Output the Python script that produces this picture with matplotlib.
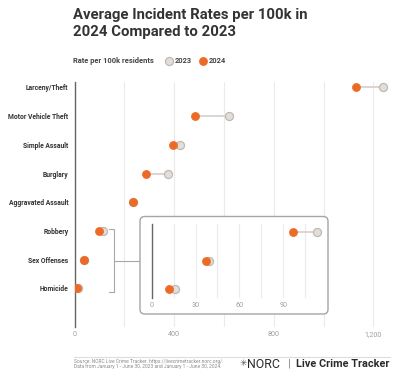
import matplotlib
matplotlib.use("Agg")
import matplotlib.pyplot as plt
from matplotlib.patches import FancyBboxPatch
from matplotlib.lines import Line2D

categories = ["Larceny/Theft", "Motor Vehicle Theft", "Simple Assault", "Burglary",
              "Aggravated Assault", "Robbery", "Sex Offenses", "Homicide"]
rate_2023 = [1240, 620, 424, 374, 236, 113, 39, 16]
rate_2024 = [1131, 484, 397, 287, 234, 97, 37, 12]
inset_categories = ["Robbery", "Sex Offenses", "Homicide"]
main_ticks = [0, 400, 800, 1200]
main_tick_labels = ["0", "400", "800", "1,200"]
inset_ticks = [0, 30, 60, 90]
inset_tick_labels = ["0", "30", "60", "90"]

W, H = 400, 385
plt.rcParams['font.family'] = ['Roboto', 'DejaVu Sans']
fig = plt.figure(figsize=(W / 100, H / 100), dpi=100)
fig.patch.set_facecolor("white")

def fx(x):
    return x / W

def fy(y):
    return 1 - y / H

def rect(x0, y0, x1, y1):
    return [fx(x0), fy(y1), fx(x1) - fx(x0), fy(y0) - fy(y1)]

ORANGE = "#EC6A26"
GRAY_FILL = "#E2DFDB"
GRAY_EDGE = "#BFB9B3"
LINE_C = "#D8D2CD"
DARK = "#333333"
TICK_C = "#A0A0A0"
GRID_C = "#EBEBEB"
MS = 5.8

def dumbbell(ax, cats, v23, v24):
    ys = list(range(len(cats)))
    for y, a, b in zip(ys, v23, v24):
        ax.plot([a, b], [y, y], color=LINE_C, lw=1.3, zorder=2, solid_capstyle="butt")
    ax.plot(v23, ys, "o", ms=MS, mfc=GRAY_FILL, mec=GRAY_EDGE, mew=0.9, zorder=3, ls="none")
    ax.plot(v24, ys, "o", ms=MS, mfc=ORANGE, mec=ORANGE, mew=0.5, zorder=4, ls="none")

# main axes
ax = fig.add_axes(rect(74.5, 82, 390, 327))
dumbbell(ax, categories, rate_2023, rate_2024)
ax.set_xlim(0, 1267)
n = len(categories)
ax.set_ylim(n - 1 + 1.35, -0.19)
ax.set_yticks(range(n))
ax.set_yticklabels(categories, fontsize=4.9, fontweight="bold", color=DARK)
ax.set_xticks(main_ticks)
ax.set_xticklabels(main_tick_labels, fontsize=5.2, color=TICK_C)
ax.set_xticks([200, 600, 1000], minor=True)
ax.tick_params(axis="both", which="both", length=0)
ax.tick_params(axis="y", pad=4.5)
ax.tick_params(axis="x", pad=3)
ax.grid(axis="x", which="both", color=GRID_C, lw=0.8, zorder=0)
for s in ["top", "right", "bottom"]:
    ax.spines[s].set_visible(False)
ax.spines["left"].set_color("#666666")
ax.spines["left"].set_linewidth(1.0)
ax.set_axisbelow(True)

# bracket and connector
bc = "#A8A8A8"
for xs, ys in [([109.3, 114.3, 114.3, 109.3], [229, 229, 292.3, 292.3]),
               ([114.3, 139.3], [260.7, 260.7])]:
    fig.add_artist(Line2D([fx(x) for x in xs], [fy(y) for y in ys], color=bc, lw=0.8))

# inset box
box = FancyBboxPatch((fx(140), fy(314)), fx(328) - fx(140), fy(216.5) - fy(314),
                     boxstyle="round,pad=0,rounding_size=0.012",
                     transform=fig.transFigure, facecolor="white",
                     edgecolor="#A5A5A5", lw=1.0, zorder=5)
fig.add_artist(box)

iax = fig.add_axes(rect(151.7, 224, 322, 298.3), zorder=6)
iax.patch.set_alpha(0)
idx = [categories.index(c) for c in inset_categories]
dumbbell(iax, inset_categories, [rate_2023[i] for i in idx], [rate_2024[i] for i in idx])
iax.set_xlim(0, 116.5)
iax.set_ylim(2 + 0.33, -0.3)
iax.set_yticks([])
iax.set_xticks(inset_ticks)
iax.set_xticklabels(inset_tick_labels, fontsize=5.2, color=TICK_C)
iax.set_xticks([15, 45, 75, 105], minor=True)
iax.tick_params(axis="both", which="both", length=0)
iax.tick_params(axis="x", pad=3)
iax.grid(axis="x", which="both", color=GRID_C, lw=0.8, zorder=0)
for s in ["top", "right", "bottom"]:
    iax.spines[s].set_visible(False)
iax.spines["left"].set_color("#666666")
iax.spines["left"].set_linewidth(1.0)
iax.set_axisbelow(True)

# title
fig.text(fx(73), fy(8), "Average Incident Rates per 100k in\n2024 Compared to 2023",
         fontsize=10.7, fontweight="bold", color=DARK, va="top", ha="left",
         linespacing=1.25)

# legend
fig.text(fx(73), fy(61), "Rate per 100k residents", fontsize=5.4, fontweight="bold",
         color="#444444", va="center", ha="left")
fig.add_artist(Line2D([fx(169)], [fy(61)], marker="o", ms=MS, mfc=GRAY_FILL,
                      mec=GRAY_EDGE, mew=0.9, ls="none"))
fig.text(fx(175), fy(61), "2023", fontsize=5.4, fontweight="bold", color="#444444",
         va="center", ha="left")
fig.add_artist(Line2D([fx(203)], [fy(61)], marker="o", ms=MS, mfc=ORANGE,
                      mec=ORANGE, mew=0.5, ls="none"))
fig.text(fx(209), fy(61), "2024", fontsize=5.4, fontweight="bold", color="#444444",
         va="center", ha="left")

# footer
fig.add_artist(Line2D([fx(74), fx(390)], [fy(357), fy(357)], color="#DDDDDD", lw=0.8))
fig.text(fx(74), fy(361.5), "Source: NORC Live Crime Tracker. https://livecrimetracker.norc.org/.",
         fontsize=3.5, color="#8A8A8A", va="center", ha="left")
fig.text(fx(74), fy(366.5), "Data from January 1 - June 30, 2023 and January 1 - June 30, 2024.",
         fontsize=3.5, color="#8A8A8A", va="center", ha="left")
fig.text(fx(240), fy(364), "\u2733", fontsize=6.5, color="#555555",
         va="center", ha="left", family=["DejaVu Sans"])
fig.text(fx(247), fy(364), "NORC", fontsize=8.9, color="#2B2B2B",
         va="center", ha="left")
fig.text(fx(289.5), fy(364), "|", fontsize=8.0, color="#777777", va="center", ha="center")
fig.text(fx(296), fy(364), "Live Crime Tracker", fontsize=7.8, fontweight="bold",
         color="#2B2B2B", va="center", ha="left")

fig.savefig("out.png", dpi=100, facecolor="white")
